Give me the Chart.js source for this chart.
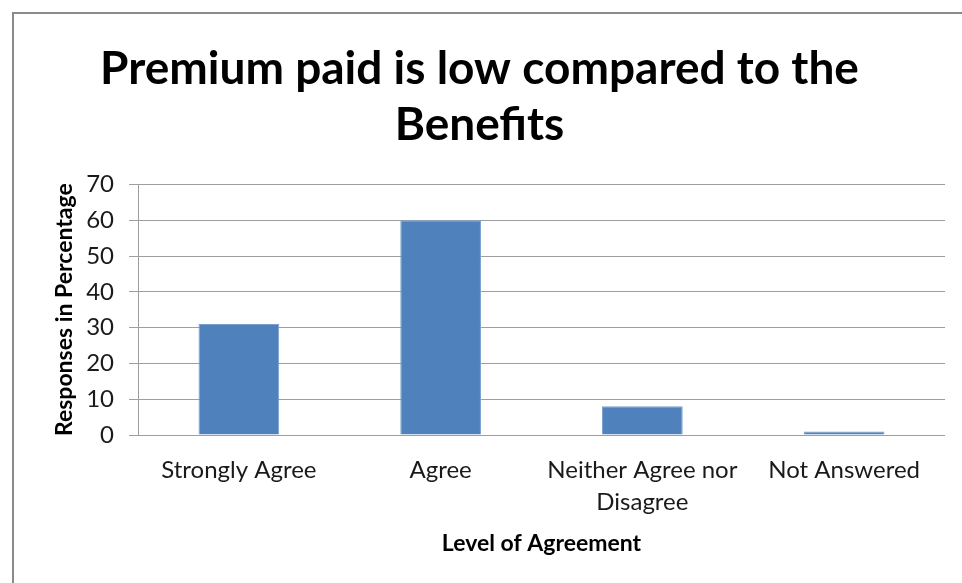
<!DOCTYPE html>
<html lang="en">
<head>
  <meta charset="UTF-8">
  <title>Premium paid is low compared to the Benefits</title>
  <script src="https://cdn.jsdelivr.net/npm/chart.js"></script>
  <style>
    body {
      margin: 0;
      background: #fff;
    }
    #wrap {
      width: 962px;
      height: 583px;
    }
  </style>
</head>
<body>
<div id="wrap">
  <canvas id="chart" width="962" height="583"></canvas>
</div>

<script>
  // Survey answers, share of respondents in percent
  const categories = ['Strongly Agree', 'Agree', ['Neither Agree nor', 'Disagree'], 'Not Answered'];
  const responses = [31, 60, 8, 1];
  const yMin = 0;
  const yMax = 70;
  const yStep = 10;

  const gridGray = '#9f9f9f';
  const textFont = 'Lato, "Open Sans", sans-serif';

  // white page with the grey box border around the chart
  const framePlugin = {
    id: 'frame',
    beforeDraw(chart) {
      const ctx = chart.ctx;
      ctx.save();
      ctx.fillStyle = '#fff';
      ctx.fillRect(0, 0, chart.width, chart.height);
      ctx.strokeStyle = '#8a8a8a';
      ctx.lineWidth = 2;
      ctx.beginPath();
      ctx.moveTo(13, chart.height + 5);
      ctx.lineTo(13, 13);
      ctx.lineTo(chart.width + 5, 13);
      ctx.stroke();
      ctx.restore();
    }
  };

  new Chart(document.getElementById('chart'), {
    type: 'bar',
    data: {
      labels: categories,
      datasets: [{
        data: responses,
        backgroundColor: '#4f81bd',
        borderColor: '#7c9fcc',
        borderWidth: 1,
        barPercentage: 0.4,
        categoryPercentage: 1
      }]
    },
    options: {
      responsive: false,
      animation: false,
      layout: { padding: { left: 14, right: 17, top: 20, bottom: 0 } },
      plugins: {
        legend: { display: false },
        tooltip: { enabled: false },
        title: {
          display: true,
          text: ['Premium paid is low compared to the', 'Benefits'],
          color: '#000',
          font: { family: textFont, size: 46, weight: 'bold', lineHeight: 1.2 },
          padding: { top: 22, bottom: 32 }
        }
      },
      scales: {
        x: {
          grid: { display: false, drawTicks: false },
          border: { display: false },
          ticks: {
            color: '#1a1a1a',
            font: { family: textFont, size: 24, lineHeight: 1.3 },
            padding: 20,
            maxRotation: 0,
            autoSkip: false
          },
          title: {
            display: true,
            text: 'Level of Agreement',
            color: '#000',
            font: { family: textFont, size: 23, weight: 'bold' },
            padding: { top: 4, bottom: 26 }
          },
          afterFit(scale) { scale.height = 148; }
        },
        y: {
          min: yMin,
          max: yMax,
          ticks: {
            stepSize: yStep,
            color: '#1a1a1a',
            font: { family: textFont, size: 24 },
            padding: 15
          },
          grid: { color: gridGray, lineWidth: 1, tickLength: 9 },
          border: { display: true, color: gridGray },
          title: {
            display: true,
            text: 'Responses in Percentage',
            color: '#000',
            font: { family: textFont, size: 23, weight: 'bold' },
            padding: { top: 37 }
          },
          afterFit(scale) { scale.width = 124; }
        }
      }
    },
    plugins: [framePlugin]
  });
</script>
</body>
</html>
